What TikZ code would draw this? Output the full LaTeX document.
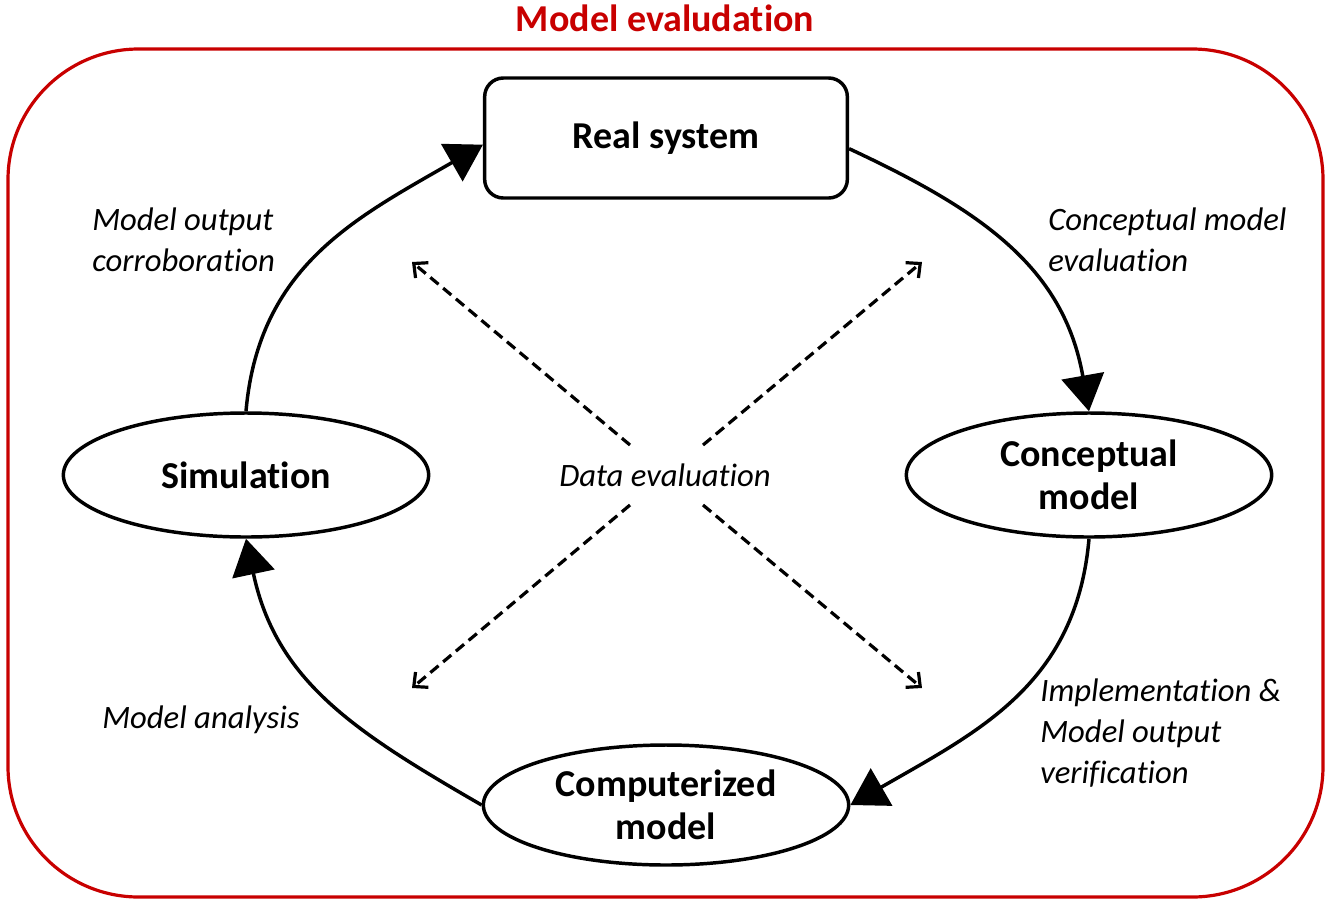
\documentclass[tikz,border=0pt]{standalone}
\usepackage{fontspec}
\setmainfont{Carlito}[Ligatures={NoCommon,NoRare,NoContextual}]
\usetikzlibrary{arrows.meta,shapes.geometric}
\definecolor{frame}{RGB}{200,0,0}
\begin{document}
\begin{tikzpicture}[x=0.75pt,y=0.75pt,
  boxtxt/.style={font=\bfseries\fontsize{28.5}{32}\selectfont, align=center, line width=2.6pt, draw=black, inner sep=0pt},
  ovalnode/.style={boxtxt, ellipse, minimum width=274pt, minimum height=93pt},
  lbl/.style={font=\itshape\fontsize{24.5}{30.5}\selectfont, align=left, anchor=north west, inner sep=0pt},
  flow/.style={line width=2.6pt, -{Triangle[length=27pt,width=32pt]}},
  dflow/.style={line width=2.4pt, dash pattern=on 8pt off 4.5pt, -{Straight Barb[length=8pt,width=15pt,line width=2.4pt]}}
]
\useasboundingbox (0,0) rectangle (1331,-904);
\draw[frame, line width=2.4pt, rounded corners=98pt] (8,-49) rectangle (1323,-897);
\node[font=\bfseries\fontsize{28.5}{32}\selectfont, text=frame, inner sep=0pt] (title) at (665,-18) {Model evaludation};

\node[boxtxt, rectangle, rounded corners=14pt, minimum width=272pt, minimum height=90pt] (real) at (666,-138) {Real system};
\node[ovalnode] (sim) at (246,-475) {Simulation};
\node[ovalnode] (concept) at (1089,-475) {Conceptual\\model};
\node[ovalnode, minimum height=90pt] (comp) at (666,-805) {Computerized\\model};

\draw[flow] ([yshift=-8pt]real.east) to[out=-25, in=100, looseness=1.05] (concept.north);
\draw[flow] (concept.south) to[out=-95, in=30, looseness=1.05] (comp.east);
\draw[flow] (comp.west) to[out=150, in=-78, looseness=1.05] (sim.south);
\draw[flow] (sim.north) to[out=85, in=210, looseness=1.05] ([yshift=-5pt]real.west);

\node[lbl] (l1) at (92,-208) {Model output\\corroboration};
\node[lbl] (l2) at (1048,-208) {Conceptual model\\evaluation};
\node[lbl] (l3) at (102,-706) {Model analysis};
\node[lbl] (l4) at (1040,-679) {Implementation \&\\Model output\\verification};
\node[font=\itshape\fontsize{24.5}{30.5}\selectfont, inner sep=0pt] (data) at (665,-475) {Data evaluation};

\coordinate (s1) at (630,-445); \coordinate (e1) at (412,-262);
\coordinate (s2) at (703,-445); \coordinate (e2) at (922,-262);
\coordinate (s3) at (630,-505); \coordinate (e3) at (412,-688);
\coordinate (s4) at (703,-505); \coordinate (e4) at (922,-688);
\draw[dflow] (s1) -- (e1);
\draw[dflow] (s2) -- (e2);
\draw[dflow] (s3) -- (e3);
\draw[dflow] (s4) -- (e4);
\end{tikzpicture}
\end{document}
